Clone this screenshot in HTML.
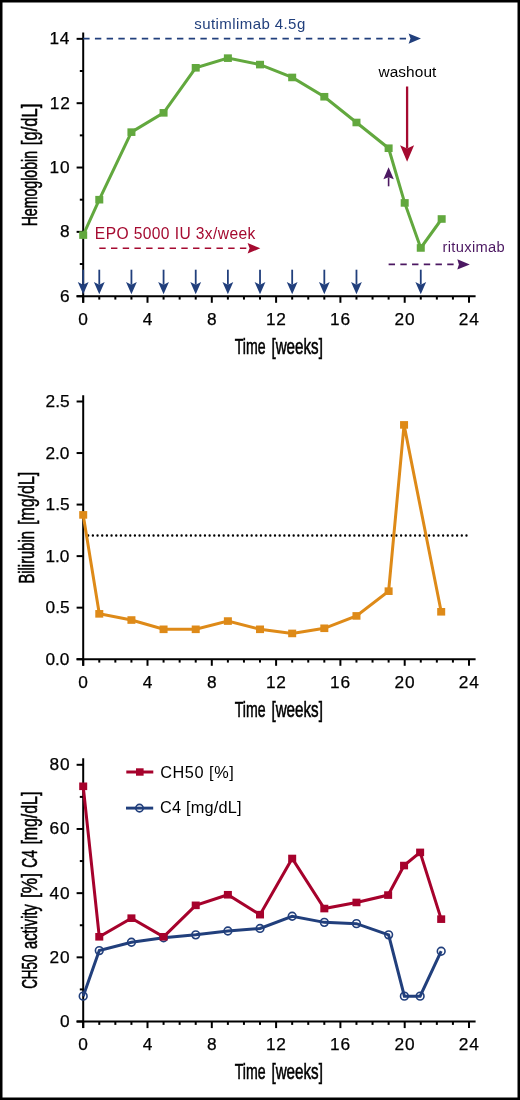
<!DOCTYPE html>
<html><head><meta charset="utf-8"><title>Figure</title>
<style>
html,body{margin:0;padding:0;background:#fff;}
body{width:520px;height:1100px;overflow:hidden;}
svg{display:block;will-change:transform;}
text{font-family:"Liberation Sans",sans-serif;}
.tk{fill:#000;stroke:#000;stroke-width:0.25px;}
.ti{fill:#000;stroke:#000;stroke-width:0.55px;}
.an{}
</style></head>
<body>
<svg width="520" height="1100" viewBox="0 0 520 1100">
<rect x="0" y="0" width="520" height="1100" fill="#000"/>
<rect x="2.5" y="2.5" width="515" height="1095" fill="#fff"/>
<line x1="83.2" y1="32.4" x2="83.2" y2="302.80" stroke="#000" stroke-width="2.0"/>
<line x1="76.60" y1="296.2" x2="475.60" y2="296.2" stroke="#000" stroke-width="2.0"/>
<line x1="76.60" y1="296.20" x2="83.2" y2="296.20" stroke="#000" stroke-width="2.0"/>
<text class="tk" fill="#000" font-size="17.3" letter-spacing="0.750" x="59.99" y="301.70">6</text>
<line x1="76.60" y1="231.86" x2="83.2" y2="231.86" stroke="#000" stroke-width="2.0"/>
<text class="tk" fill="#000" font-size="17.3" letter-spacing="0.750" x="59.99" y="237.36">8</text>
<line x1="76.60" y1="167.53" x2="83.2" y2="167.53" stroke="#000" stroke-width="2.0"/>
<text class="tk" fill="#000" font-size="17.3" letter-spacing="0.750" x="49.55" y="173.03">10</text>
<line x1="76.60" y1="103.19" x2="83.2" y2="103.19" stroke="#000" stroke-width="2.0"/>
<text class="tk" fill="#000" font-size="17.3" letter-spacing="0.750" x="49.81" y="108.69">12</text>
<line x1="76.60" y1="38.85" x2="83.2" y2="38.85" stroke="#000" stroke-width="2.0"/>
<text class="tk" fill="#000" font-size="17.3" letter-spacing="0.750" x="49.47" y="44.35">14</text>
<line x1="79.80" y1="264.03" x2="83.2" y2="264.03" stroke="#000" stroke-width="2.0"/>
<line x1="79.80" y1="199.69" x2="83.2" y2="199.69" stroke="#000" stroke-width="2.0"/>
<line x1="79.80" y1="135.36" x2="83.2" y2="135.36" stroke="#000" stroke-width="2.0"/>
<line x1="79.80" y1="71.02" x2="83.2" y2="71.02" stroke="#000" stroke-width="2.0"/>
<line x1="83.20" y1="296.2" x2="83.20" y2="302.80" stroke="#000" stroke-width="2.0"/>
<text class="tk" fill="#000" font-size="17.3" letter-spacing="0.750" x="78.36" y="324.80">0</text>
<line x1="99.28" y1="296.2" x2="99.28" y2="299.60" stroke="#000" stroke-width="2.0"/>
<line x1="115.35" y1="296.2" x2="115.35" y2="299.60" stroke="#000" stroke-width="2.0"/>
<line x1="131.43" y1="296.2" x2="131.43" y2="299.60" stroke="#000" stroke-width="2.0"/>
<line x1="147.50" y1="296.2" x2="147.50" y2="302.80" stroke="#000" stroke-width="2.0"/>
<text class="tk" fill="#000" font-size="17.3" letter-spacing="0.750" x="142.79" y="324.80">4</text>
<line x1="163.57" y1="296.2" x2="163.57" y2="299.60" stroke="#000" stroke-width="2.0"/>
<line x1="179.65" y1="296.2" x2="179.65" y2="299.60" stroke="#000" stroke-width="2.0"/>
<line x1="195.72" y1="296.2" x2="195.72" y2="299.60" stroke="#000" stroke-width="2.0"/>
<line x1="211.80" y1="296.2" x2="211.80" y2="302.80" stroke="#000" stroke-width="2.0"/>
<text class="tk" fill="#000" font-size="17.3" letter-spacing="0.750" x="206.96" y="324.80">8</text>
<line x1="227.88" y1="296.2" x2="227.88" y2="299.60" stroke="#000" stroke-width="2.0"/>
<line x1="243.95" y1="296.2" x2="243.95" y2="299.60" stroke="#000" stroke-width="2.0"/>
<line x1="260.02" y1="296.2" x2="260.02" y2="299.60" stroke="#000" stroke-width="2.0"/>
<line x1="276.10" y1="296.2" x2="276.10" y2="302.80" stroke="#000" stroke-width="2.0"/>
<text class="tk" fill="#000" font-size="17.3" letter-spacing="0.750" x="265.91" y="324.80">12</text>
<line x1="292.18" y1="296.2" x2="292.18" y2="299.60" stroke="#000" stroke-width="2.0"/>
<line x1="308.25" y1="296.2" x2="308.25" y2="299.60" stroke="#000" stroke-width="2.0"/>
<line x1="324.32" y1="296.2" x2="324.32" y2="299.60" stroke="#000" stroke-width="2.0"/>
<line x1="340.40" y1="296.2" x2="340.40" y2="302.80" stroke="#000" stroke-width="2.0"/>
<text class="tk" fill="#000" font-size="17.3" letter-spacing="0.750" x="330.12" y="324.80">16</text>
<line x1="356.47" y1="296.2" x2="356.47" y2="299.60" stroke="#000" stroke-width="2.0"/>
<line x1="372.55" y1="296.2" x2="372.55" y2="299.60" stroke="#000" stroke-width="2.0"/>
<line x1="388.62" y1="296.2" x2="388.62" y2="299.60" stroke="#000" stroke-width="2.0"/>
<line x1="404.70" y1="296.2" x2="404.70" y2="302.80" stroke="#000" stroke-width="2.0"/>
<text class="tk" fill="#000" font-size="17.3" letter-spacing="0.750" x="394.59" y="324.80">20</text>
<line x1="420.77" y1="296.2" x2="420.77" y2="299.60" stroke="#000" stroke-width="2.0"/>
<line x1="436.85" y1="296.2" x2="436.85" y2="299.60" stroke="#000" stroke-width="2.0"/>
<line x1="452.92" y1="296.2" x2="452.92" y2="299.60" stroke="#000" stroke-width="2.0"/>
<line x1="469.00" y1="296.2" x2="469.00" y2="302.80" stroke="#000" stroke-width="2.0"/>
<text class="tk" fill="#000" font-size="17.3" letter-spacing="0.750" x="458.85" y="324.80">24</text>
<text class="ti" fill="#000" font-size="21.4" transform="translate(234.72,353.80) scale(0.6613,1)">Time</text>
<text class="ti" fill="#000" font-size="21.4" transform="translate(271.44,353.80) scale(0.7099,1)">[weeks]</text>
<text class="ti" fill="#000" font-size="21.4" transform="translate(37.30,226.33) rotate(-90) scale(0.6600,1)">Hemoglobin</text>
<text class="ti" fill="#000" font-size="21.4" transform="translate(37.30,145.16) rotate(-90) scale(0.7742,1)">[g/dL]</text>
<line x1="83.20" y1="38.60" x2="410.50" y2="38.60" stroke="#213f7c" stroke-width="1.6" stroke-dasharray="6.4 5.32"/>
<polygon points="421.00,38.60 408.60,33.40 410.50,38.60 408.60,43.80" fill="#213f7c"/>
<text class="an" fill="#213f7c" font-size="15.0" letter-spacing="0.416" transform="translate(194.35,28.50)">sutimlimab 4.5g</text>
<line x1="99.28" y1="248.30" x2="249.60" y2="248.30" stroke="#a50a30" stroke-width="1.6" stroke-dasharray="6.4 5.32"/>
<polygon points="260.30,248.30 247.60,243.00 249.60,248.30 247.60,253.60" fill="#a50a30"/>
<text class="an" fill="#a50a30" font-size="15.6" letter-spacing="0.391" transform="translate(94.85,239.30)">EPO 5000 IU 3x/week</text>
<line x1="388.62" y1="264.40" x2="458.90" y2="264.40" stroke="#4c1862" stroke-width="1.6" stroke-dasharray="6.4 5.32"/>
<polygon points="469.80,264.40 457.30,259.20 458.90,264.40 457.30,269.60" fill="#4c1862"/>
<text class="an" fill="#4c1862" font-size="14.7" letter-spacing="0.342" transform="translate(442.44,251.70)">rituximab</text>
<text class="an" fill="#000" font-size="15.4" letter-spacing="0.081" transform="translate(378.50,77.00)">washout</text>
<line x1="407.10" y1="86.50" x2="407.10" y2="148.50" stroke="#a50a30" stroke-width="2.3"/>
<polygon points="407.10,161.80 400.10,145.30 407.10,148.50 414.10,145.30" fill="#a50a30"/>
<line x1="388.60" y1="186.30" x2="388.60" y2="177.30" stroke="#4c1862" stroke-width="1.6"/>
<polygon points="388.60,167.20 383.40,179.30 388.60,177.30 393.80,179.30" fill="#4c1862"/>
<line x1="83.20" y1="269.70" x2="83.20" y2="284.70" stroke="#213f7c" stroke-width="1.8"/>
<polygon points="83.20,294.30 77.80,282.10 83.20,284.70 88.60,282.10" fill="#213f7c"/>
<line x1="99.28" y1="269.70" x2="99.28" y2="284.70" stroke="#213f7c" stroke-width="1.8"/>
<polygon points="99.28,294.30 93.88,282.10 99.28,284.70 104.68,282.10" fill="#213f7c"/>
<line x1="131.43" y1="269.70" x2="131.43" y2="284.70" stroke="#213f7c" stroke-width="1.8"/>
<polygon points="131.43,294.30 126.03,282.10 131.43,284.70 136.83,282.10" fill="#213f7c"/>
<line x1="163.57" y1="269.70" x2="163.57" y2="284.70" stroke="#213f7c" stroke-width="1.8"/>
<polygon points="163.57,294.30 158.17,282.10 163.57,284.70 168.97,282.10" fill="#213f7c"/>
<line x1="195.72" y1="269.70" x2="195.72" y2="284.70" stroke="#213f7c" stroke-width="1.8"/>
<polygon points="195.72,294.30 190.32,282.10 195.72,284.70 201.12,282.10" fill="#213f7c"/>
<line x1="227.88" y1="269.70" x2="227.88" y2="284.70" stroke="#213f7c" stroke-width="1.8"/>
<polygon points="227.88,294.30 222.47,282.10 227.88,284.70 233.28,282.10" fill="#213f7c"/>
<line x1="260.02" y1="269.70" x2="260.02" y2="284.70" stroke="#213f7c" stroke-width="1.8"/>
<polygon points="260.02,294.30 254.62,282.10 260.02,284.70 265.42,282.10" fill="#213f7c"/>
<line x1="292.18" y1="269.70" x2="292.18" y2="284.70" stroke="#213f7c" stroke-width="1.8"/>
<polygon points="292.18,294.30 286.78,282.10 292.18,284.70 297.57,282.10" fill="#213f7c"/>
<line x1="324.32" y1="269.70" x2="324.32" y2="284.70" stroke="#213f7c" stroke-width="1.8"/>
<polygon points="324.32,294.30 318.93,282.10 324.32,284.70 329.72,282.10" fill="#213f7c"/>
<line x1="356.47" y1="269.70" x2="356.47" y2="284.70" stroke="#213f7c" stroke-width="1.8"/>
<polygon points="356.47,294.30 351.07,282.10 356.47,284.70 361.87,282.10" fill="#213f7c"/>
<line x1="420.77" y1="269.70" x2="420.77" y2="284.70" stroke="#213f7c" stroke-width="1.8"/>
<polygon points="420.77,294.30 415.38,282.10 420.77,284.70 426.17,282.10" fill="#213f7c"/>
<polyline points="83.20,235.08 99.28,199.69 131.43,132.14 163.57,112.84 195.72,67.80 227.88,58.15 260.02,64.59 292.18,77.45 324.32,96.75 356.47,122.49 388.62,148.22 404.70,202.91 420.77,247.95 441.67,219.00" fill="none" stroke="#62a83e" stroke-width="3.0" stroke-linejoin="miter"/>
<rect x="79.20" y="231.28" width="8" height="7.6" fill="#62a83e"/>
<rect x="95.28" y="195.89" width="8" height="7.6" fill="#62a83e"/>
<rect x="127.43" y="128.34" width="8" height="7.6" fill="#62a83e"/>
<rect x="159.57" y="109.04" width="8" height="7.6" fill="#62a83e"/>
<rect x="191.72" y="64.00" width="8" height="7.6" fill="#62a83e"/>
<rect x="223.88" y="54.35" width="8" height="7.6" fill="#62a83e"/>
<rect x="256.02" y="60.79" width="8" height="7.6" fill="#62a83e"/>
<rect x="288.18" y="73.65" width="8" height="7.6" fill="#62a83e"/>
<rect x="320.32" y="92.95" width="8" height="7.6" fill="#62a83e"/>
<rect x="352.47" y="118.69" width="8" height="7.6" fill="#62a83e"/>
<rect x="384.62" y="144.42" width="8" height="7.6" fill="#62a83e"/>
<rect x="400.70" y="199.11" width="8" height="7.6" fill="#62a83e"/>
<rect x="416.77" y="244.15" width="8" height="7.6" fill="#62a83e"/>
<rect x="437.67" y="215.19" width="8" height="7.6" fill="#62a83e"/>
<line x1="83.2" y1="395.2" x2="83.2" y2="665.80" stroke="#000" stroke-width="2.0"/>
<line x1="76.60" y1="659.2" x2="475.60" y2="659.2" stroke="#000" stroke-width="2.0"/>
<line x1="76.60" y1="659.20" x2="83.2" y2="659.20" stroke="#000" stroke-width="2.0"/>
<text class="tk" fill="#000" font-size="17.3" x="45.46" y="664.70">0.0</text>
<line x1="76.60" y1="607.66" x2="83.2" y2="607.66" stroke="#000" stroke-width="2.0"/>
<text class="tk" fill="#000" font-size="17.3" x="45.55" y="613.16">0.5</text>
<line x1="76.60" y1="556.12" x2="83.2" y2="556.12" stroke="#000" stroke-width="2.0"/>
<text class="tk" fill="#000" font-size="17.3" x="45.46" y="561.62">1.0</text>
<line x1="76.60" y1="504.58" x2="83.2" y2="504.58" stroke="#000" stroke-width="2.0"/>
<text class="tk" fill="#000" font-size="17.3" x="45.55" y="510.08">1.5</text>
<line x1="76.60" y1="453.04" x2="83.2" y2="453.04" stroke="#000" stroke-width="2.0"/>
<text class="tk" fill="#000" font-size="17.3" x="45.46" y="458.54">2.0</text>
<line x1="76.60" y1="401.50" x2="83.2" y2="401.50" stroke="#000" stroke-width="2.0"/>
<text class="tk" fill="#000" font-size="17.3" x="45.55" y="407.00">2.5</text>
<line x1="83.20" y1="659.2" x2="83.20" y2="665.80" stroke="#000" stroke-width="2.0"/>
<text class="tk" fill="#000" font-size="17.3" letter-spacing="0.750" x="78.36" y="687.80">0</text>
<line x1="99.28" y1="659.2" x2="99.28" y2="662.60" stroke="#000" stroke-width="2.0"/>
<line x1="115.35" y1="659.2" x2="115.35" y2="662.60" stroke="#000" stroke-width="2.0"/>
<line x1="131.43" y1="659.2" x2="131.43" y2="662.60" stroke="#000" stroke-width="2.0"/>
<line x1="147.50" y1="659.2" x2="147.50" y2="665.80" stroke="#000" stroke-width="2.0"/>
<text class="tk" fill="#000" font-size="17.3" letter-spacing="0.750" x="142.79" y="687.80">4</text>
<line x1="163.57" y1="659.2" x2="163.57" y2="662.60" stroke="#000" stroke-width="2.0"/>
<line x1="179.65" y1="659.2" x2="179.65" y2="662.60" stroke="#000" stroke-width="2.0"/>
<line x1="195.72" y1="659.2" x2="195.72" y2="662.60" stroke="#000" stroke-width="2.0"/>
<line x1="211.80" y1="659.2" x2="211.80" y2="665.80" stroke="#000" stroke-width="2.0"/>
<text class="tk" fill="#000" font-size="17.3" letter-spacing="0.750" x="206.96" y="687.80">8</text>
<line x1="227.88" y1="659.2" x2="227.88" y2="662.60" stroke="#000" stroke-width="2.0"/>
<line x1="243.95" y1="659.2" x2="243.95" y2="662.60" stroke="#000" stroke-width="2.0"/>
<line x1="260.02" y1="659.2" x2="260.02" y2="662.60" stroke="#000" stroke-width="2.0"/>
<line x1="276.10" y1="659.2" x2="276.10" y2="665.80" stroke="#000" stroke-width="2.0"/>
<text class="tk" fill="#000" font-size="17.3" letter-spacing="0.750" x="265.91" y="687.80">12</text>
<line x1="292.18" y1="659.2" x2="292.18" y2="662.60" stroke="#000" stroke-width="2.0"/>
<line x1="308.25" y1="659.2" x2="308.25" y2="662.60" stroke="#000" stroke-width="2.0"/>
<line x1="324.32" y1="659.2" x2="324.32" y2="662.60" stroke="#000" stroke-width="2.0"/>
<line x1="340.40" y1="659.2" x2="340.40" y2="665.80" stroke="#000" stroke-width="2.0"/>
<text class="tk" fill="#000" font-size="17.3" letter-spacing="0.750" x="330.12" y="687.80">16</text>
<line x1="356.47" y1="659.2" x2="356.47" y2="662.60" stroke="#000" stroke-width="2.0"/>
<line x1="372.55" y1="659.2" x2="372.55" y2="662.60" stroke="#000" stroke-width="2.0"/>
<line x1="388.62" y1="659.2" x2="388.62" y2="662.60" stroke="#000" stroke-width="2.0"/>
<line x1="404.70" y1="659.2" x2="404.70" y2="665.80" stroke="#000" stroke-width="2.0"/>
<text class="tk" fill="#000" font-size="17.3" letter-spacing="0.750" x="394.59" y="687.80">20</text>
<line x1="420.77" y1="659.2" x2="420.77" y2="662.60" stroke="#000" stroke-width="2.0"/>
<line x1="436.85" y1="659.2" x2="436.85" y2="662.60" stroke="#000" stroke-width="2.0"/>
<line x1="452.92" y1="659.2" x2="452.92" y2="662.60" stroke="#000" stroke-width="2.0"/>
<line x1="469.00" y1="659.2" x2="469.00" y2="665.80" stroke="#000" stroke-width="2.0"/>
<text class="tk" fill="#000" font-size="17.3" letter-spacing="0.750" x="458.85" y="687.80">24</text>
<text class="ti" fill="#000" font-size="21.4" transform="translate(234.72,716.80) scale(0.6613,1)">Time</text>
<text class="ti" fill="#000" font-size="21.4" transform="translate(271.44,716.80) scale(0.7099,1)">[weeks]</text>
<text class="ti" fill="#000" font-size="21.4" transform="translate(33.60,583.48) rotate(-90) scale(0.6879,1)">Bilirubin</text>
<text class="ti" fill="#000" font-size="21.4" transform="translate(33.60,524.91) rotate(-90) scale(0.7441,1)">[mg/dL]</text>
<line x1="88.2" y1="535.50" x2="467" y2="535.50" stroke="#000" stroke-width="2.35" stroke-linecap="round" stroke-dasharray="0 4.67"/>
<polyline points="83.20,514.89 99.28,613.84 131.43,620.03 163.57,629.31 195.72,629.31 227.88,621.06 260.02,629.31 292.18,633.43 324.32,628.28 356.47,615.91 388.62,591.17 404.06,424.90 441.19,611.78" fill="none" stroke="#de8a18" stroke-width="3.0" stroke-linejoin="miter"/>
<rect x="79.20" y="511.09" width="8" height="7.6" fill="#de8a18"/>
<rect x="95.28" y="610.04" width="8" height="7.6" fill="#de8a18"/>
<rect x="127.43" y="616.23" width="8" height="7.6" fill="#de8a18"/>
<rect x="159.57" y="625.51" width="8" height="7.6" fill="#de8a18"/>
<rect x="191.72" y="625.51" width="8" height="7.6" fill="#de8a18"/>
<rect x="223.88" y="617.26" width="8" height="7.6" fill="#de8a18"/>
<rect x="256.02" y="625.51" width="8" height="7.6" fill="#de8a18"/>
<rect x="288.18" y="629.63" width="8" height="7.6" fill="#de8a18"/>
<rect x="320.32" y="624.48" width="8" height="7.6" fill="#de8a18"/>
<rect x="352.47" y="612.11" width="8" height="7.6" fill="#de8a18"/>
<rect x="384.62" y="587.37" width="8" height="7.6" fill="#de8a18"/>
<rect x="400.06" y="421.10" width="8" height="7.6" fill="#de8a18"/>
<rect x="437.19" y="607.98" width="8" height="7.6" fill="#de8a18"/>
<line x1="83.2" y1="758.3" x2="83.2" y2="1028.10" stroke="#000" stroke-width="2.0"/>
<line x1="76.60" y1="1021.5" x2="475.60" y2="1021.5" stroke="#000" stroke-width="2.0"/>
<line x1="76.60" y1="1021.50" x2="83.2" y2="1021.50" stroke="#000" stroke-width="2.0"/>
<text class="tk" fill="#000" font-size="17.3" letter-spacing="0.750" x="59.90" y="1027.00">0</text>
<line x1="76.60" y1="957.33" x2="83.2" y2="957.33" stroke="#000" stroke-width="2.0"/>
<text class="tk" fill="#000" font-size="17.3" letter-spacing="0.750" x="49.55" y="962.83">20</text>
<line x1="76.60" y1="893.15" x2="83.2" y2="893.15" stroke="#000" stroke-width="2.0"/>
<text class="tk" fill="#000" font-size="17.3" letter-spacing="0.750" x="49.55" y="898.65">40</text>
<line x1="76.60" y1="828.97" x2="83.2" y2="828.97" stroke="#000" stroke-width="2.0"/>
<text class="tk" fill="#000" font-size="17.3" letter-spacing="0.750" x="49.55" y="834.47">60</text>
<line x1="76.60" y1="764.80" x2="83.2" y2="764.80" stroke="#000" stroke-width="2.0"/>
<text class="tk" fill="#000" font-size="17.3" letter-spacing="0.750" x="49.55" y="770.30">80</text>
<line x1="79.80" y1="989.41" x2="83.2" y2="989.41" stroke="#000" stroke-width="2.0"/>
<line x1="79.80" y1="925.24" x2="83.2" y2="925.24" stroke="#000" stroke-width="2.0"/>
<line x1="79.80" y1="861.06" x2="83.2" y2="861.06" stroke="#000" stroke-width="2.0"/>
<line x1="79.80" y1="796.89" x2="83.2" y2="796.89" stroke="#000" stroke-width="2.0"/>
<line x1="83.20" y1="1021.5" x2="83.20" y2="1028.10" stroke="#000" stroke-width="2.0"/>
<text class="tk" fill="#000" font-size="17.3" letter-spacing="0.750" x="78.36" y="1050.10">0</text>
<line x1="99.28" y1="1021.5" x2="99.28" y2="1024.90" stroke="#000" stroke-width="2.0"/>
<line x1="115.35" y1="1021.5" x2="115.35" y2="1024.90" stroke="#000" stroke-width="2.0"/>
<line x1="131.43" y1="1021.5" x2="131.43" y2="1024.90" stroke="#000" stroke-width="2.0"/>
<line x1="147.50" y1="1021.5" x2="147.50" y2="1028.10" stroke="#000" stroke-width="2.0"/>
<text class="tk" fill="#000" font-size="17.3" letter-spacing="0.750" x="142.79" y="1050.10">4</text>
<line x1="163.57" y1="1021.5" x2="163.57" y2="1024.90" stroke="#000" stroke-width="2.0"/>
<line x1="179.65" y1="1021.5" x2="179.65" y2="1024.90" stroke="#000" stroke-width="2.0"/>
<line x1="195.72" y1="1021.5" x2="195.72" y2="1024.90" stroke="#000" stroke-width="2.0"/>
<line x1="211.80" y1="1021.5" x2="211.80" y2="1028.10" stroke="#000" stroke-width="2.0"/>
<text class="tk" fill="#000" font-size="17.3" letter-spacing="0.750" x="206.96" y="1050.10">8</text>
<line x1="227.88" y1="1021.5" x2="227.88" y2="1024.90" stroke="#000" stroke-width="2.0"/>
<line x1="243.95" y1="1021.5" x2="243.95" y2="1024.90" stroke="#000" stroke-width="2.0"/>
<line x1="260.02" y1="1021.5" x2="260.02" y2="1024.90" stroke="#000" stroke-width="2.0"/>
<line x1="276.10" y1="1021.5" x2="276.10" y2="1028.10" stroke="#000" stroke-width="2.0"/>
<text class="tk" fill="#000" font-size="17.3" letter-spacing="0.750" x="265.91" y="1050.10">12</text>
<line x1="292.18" y1="1021.5" x2="292.18" y2="1024.90" stroke="#000" stroke-width="2.0"/>
<line x1="308.25" y1="1021.5" x2="308.25" y2="1024.90" stroke="#000" stroke-width="2.0"/>
<line x1="324.32" y1="1021.5" x2="324.32" y2="1024.90" stroke="#000" stroke-width="2.0"/>
<line x1="340.40" y1="1021.5" x2="340.40" y2="1028.10" stroke="#000" stroke-width="2.0"/>
<text class="tk" fill="#000" font-size="17.3" letter-spacing="0.750" x="330.12" y="1050.10">16</text>
<line x1="356.47" y1="1021.5" x2="356.47" y2="1024.90" stroke="#000" stroke-width="2.0"/>
<line x1="372.55" y1="1021.5" x2="372.55" y2="1024.90" stroke="#000" stroke-width="2.0"/>
<line x1="388.62" y1="1021.5" x2="388.62" y2="1024.90" stroke="#000" stroke-width="2.0"/>
<line x1="404.70" y1="1021.5" x2="404.70" y2="1028.10" stroke="#000" stroke-width="2.0"/>
<text class="tk" fill="#000" font-size="17.3" letter-spacing="0.750" x="394.59" y="1050.10">20</text>
<line x1="420.77" y1="1021.5" x2="420.77" y2="1024.90" stroke="#000" stroke-width="2.0"/>
<line x1="436.85" y1="1021.5" x2="436.85" y2="1024.90" stroke="#000" stroke-width="2.0"/>
<line x1="452.92" y1="1021.5" x2="452.92" y2="1024.90" stroke="#000" stroke-width="2.0"/>
<line x1="469.00" y1="1021.5" x2="469.00" y2="1028.10" stroke="#000" stroke-width="2.0"/>
<text class="tk" fill="#000" font-size="17.3" letter-spacing="0.750" x="458.85" y="1050.10">24</text>
<text class="ti" fill="#000" font-size="21.4" transform="translate(234.72,1079.10) scale(0.6613,1)">Time</text>
<text class="ti" fill="#000" font-size="21.4" transform="translate(271.44,1079.10) scale(0.7099,1)">[weeks]</text>
<text class="ti" fill="#000" font-size="21.4" transform="translate(37.00,988.87) rotate(-90) scale(0.6281,1)">CH50</text>
<text class="ti" fill="#000" font-size="21.4" transform="translate(37.00,948.99) rotate(-90) scale(0.6866,1)">activity</text>
<text class="ti" fill="#000" font-size="21.4" transform="translate(37.00,897.91) rotate(-90) scale(0.8052,1)">[%]</text>
<text class="ti" fill="#000" font-size="21.4" transform="translate(37.00,867.69) rotate(-90) scale(0.6452,1)">C4</text>
<text class="ti" fill="#000" font-size="21.4" transform="translate(37.00,844.61) rotate(-90) scale(0.7427,1)">[mg/dL]</text>
<polyline points="83.20,996.15 99.28,950.59 131.43,942.24 163.57,937.75 195.72,934.86 227.88,931.01 260.02,928.45 292.18,916.25 324.32,922.35 356.47,923.63 388.62,934.86 404.38,996.15 420.13,996.15 441.19,951.23" fill="none" stroke="#213f7c" stroke-width="3.0" stroke-linejoin="miter"/>
<circle cx="83.20" cy="996.15" r="3.85" fill="none" stroke="#213f7c" stroke-width="1.6"/>
<circle cx="99.28" cy="950.59" r="3.85" fill="none" stroke="#213f7c" stroke-width="1.6"/>
<circle cx="131.43" cy="942.24" r="3.85" fill="none" stroke="#213f7c" stroke-width="1.6"/>
<circle cx="163.57" cy="937.75" r="3.85" fill="none" stroke="#213f7c" stroke-width="1.6"/>
<circle cx="195.72" cy="934.86" r="3.85" fill="none" stroke="#213f7c" stroke-width="1.6"/>
<circle cx="227.88" cy="931.01" r="3.85" fill="none" stroke="#213f7c" stroke-width="1.6"/>
<circle cx="260.02" cy="928.45" r="3.85" fill="none" stroke="#213f7c" stroke-width="1.6"/>
<circle cx="292.18" cy="916.25" r="3.85" fill="none" stroke="#213f7c" stroke-width="1.6"/>
<circle cx="324.32" cy="922.35" r="3.85" fill="none" stroke="#213f7c" stroke-width="1.6"/>
<circle cx="356.47" cy="923.63" r="3.85" fill="none" stroke="#213f7c" stroke-width="1.6"/>
<circle cx="388.62" cy="934.86" r="3.85" fill="none" stroke="#213f7c" stroke-width="1.6"/>
<circle cx="404.38" cy="996.15" r="3.85" fill="none" stroke="#213f7c" stroke-width="1.6"/>
<circle cx="420.13" cy="996.15" r="3.85" fill="none" stroke="#213f7c" stroke-width="1.6"/>
<circle cx="441.19" cy="951.23" r="3.85" fill="none" stroke="#213f7c" stroke-width="1.6"/>
<polyline points="83.20,786.30 99.28,936.79 131.43,918.18 163.57,936.79 195.72,905.34 227.88,894.75 260.02,914.65 292.18,858.50 324.32,908.55 356.47,902.46 388.14,895.08 404.06,865.55 420.13,852.40 441.19,919.14" fill="none" stroke="#a6022c" stroke-width="3.0" stroke-linejoin="miter"/>
<rect x="79.20" y="782.50" width="8" height="7.6" fill="#a6022c"/>
<rect x="95.28" y="932.99" width="8" height="7.6" fill="#a6022c"/>
<rect x="127.43" y="914.38" width="8" height="7.6" fill="#a6022c"/>
<rect x="159.57" y="932.99" width="8" height="7.6" fill="#a6022c"/>
<rect x="191.72" y="901.54" width="8" height="7.6" fill="#a6022c"/>
<rect x="223.88" y="890.95" width="8" height="7.6" fill="#a6022c"/>
<rect x="256.02" y="910.85" width="8" height="7.6" fill="#a6022c"/>
<rect x="288.18" y="854.70" width="8" height="7.6" fill="#a6022c"/>
<rect x="320.32" y="904.75" width="8" height="7.6" fill="#a6022c"/>
<rect x="352.47" y="898.66" width="8" height="7.6" fill="#a6022c"/>
<rect x="384.14" y="891.28" width="8" height="7.6" fill="#a6022c"/>
<rect x="400.06" y="861.75" width="8" height="7.6" fill="#a6022c"/>
<rect x="416.13" y="848.60" width="8" height="7.6" fill="#a6022c"/>
<rect x="437.19" y="915.34" width="8" height="7.6" fill="#a6022c"/>
<line x1="126.3" y1="772" x2="153.3" y2="772" stroke="#a6022c" stroke-width="3"/>
<rect x="136" y="768.3" width="7.6" height="7.4" fill="#a6022c"/>
<text class="an" fill="#000" font-size="16.3" letter-spacing="0.539" transform="translate(160.28,777.80)">CH50 [%]</text>
<line x1="126.0" y1="808.1" x2="153.2" y2="808.1" stroke="#213f7c" stroke-width="2.9"/>
<circle cx="139.5" cy="808.1" r="3.75" fill="none" stroke="#213f7c" stroke-width="1.6"/>
<text class="an" fill="#000" font-size="16.3" letter-spacing="0.217" transform="translate(159.99,813.40)">C4 [mg/dL]</text>
</svg>
</body></html>
